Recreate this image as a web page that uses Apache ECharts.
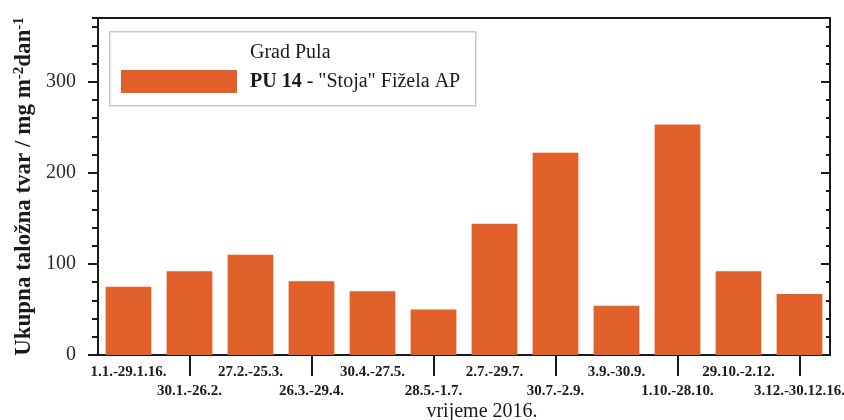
<!DOCTYPE html>
<html>
<head>
<meta charset="utf-8">
<script src="https://cdn.jsdelivr.net/npm/echarts@6/dist/echarts.min.js"></script>
<style>html,body{margin:0;padding:0;background:#fff}#c{width:844px;height:420px}</style>
</head>
<body>
<div id="c"></div>
<script>
const categories = ['1.1.-29.1.16.', '30.1.-26.2.', '27.2.-25.3.', '26.3.-29.4.', '30.4.-27.5.', '28.5.-1.7.', '2.7.-29.7.', '30.7.-2.9.', '3.9.-30.9.', '1.10.-28.10.', '29.10.-2.12.', '3.12.-30.12.16.'];
const values = [75, 92, 110, 81, 70, 50, 144, 222, 54, 253, 92, 67];
const seriesName = 'PU 14 - "Stoja" Fižela AP';
const legendTitle = 'Grad Pula';
const yTicks = [0, 100, 200, 300];
const xTitle = 'vrijeme 2016.';

const FF = '"Liberation Serif", "DejaVu Serif", serif';
const INK = '#1a1a1a';
const chart = echarts.init(document.getElementById('c'));

function yAx(pos, interval, len, inside, withLabel) {
  return {
    type: 'value', position: pos, min: 0, max: 370, interval: interval,
    axisLine: { show: true, lineStyle: { color: INK, width: 2 } },
    axisTick: { show: true, length: len, inside: inside, lineStyle: { color: INK, width: 2 } },
    axisLabel: withLabel ? {
      show: true, showMaxLabel: false, color: '#2a2a2a', fontFamily: FF, fontSize: 20, margin: 22,
      formatter: v => yTicks.indexOf(v) >= 0 ? String(v) : ''
    } : { show: false },
    splitLine: { show: false }
  };
}

const yMain = yAx('left', 100, 10, false, true);
yMain.name = '{t|Ukupna taložna tvar / mg m}{s|-2}{t|dan}{s|-1}';
yMain.nameLocation = 'middle';
yMain.nameRotate = 90;
yMain.nameGap = 58;
yMain.nameTextStyle = {
  rich: {
    t: { fontFamily: FF, fontSize: 23, fontWeight: 'bold', color: INK, verticalAlign: 'bottom' },
    s: { fontFamily: FF, fontSize: 15, fontWeight: 'bold', color: INK, verticalAlign: 'top' }
  }
};

chart.setOption({
  animation: false,
  grid: { left: 98, right: 14, top: 18, bottom: 65, outerBoundsMode: 'none', containLabel: false, show: true, borderColor: INK, borderWidth: 2, backgroundColor: 'transparent' },
  legend: {
    data: [seriesName], left: 121, top: 70, padding: 0, itemWidth: 116, itemHeight: 23, icon: 'rect',
    selectedMode: false,
    formatter: () => '{b|PU 14}{n| - "Stoja" Fižela AP}',
    textStyle: {
      padding: [0, 0, 0, 8],
      rich: {
        b: { fontFamily: FF, fontSize: 20, fontWeight: 'bold', color: INK },
        n: { fontFamily: FF, fontSize: 20, color: INK }
      }
    }
  },
  graphic: [
    { type: 'rect', left: 109, top: 31, shape: { width: 366, height: 74 }, style: { fill: '#fff', stroke: '#c8c8c8', lineWidth: 1.5 }, z: 0 },
    { type: 'text', left: 250, top: 43, style: { text: legendTitle, font: '20px ' + FF, fill: INK }, z: 10 }
  ],
  xAxis: {
    type: 'category', data: categories,
    name: xTitle, nameLocation: 'middle', nameGap: 47, nameMoveOverlap: false,
    nameTextStyle: { fontFamily: FF, fontSize: 20, color: INK, padding: [0, 0, 0, 36] },
    axisLine: { lineStyle: { color: INK, width: 2 } },
    axisTick: { show: true, alignWithLabel: true, length: 21, interval: (i) => i % 2 === 1, lineStyle: { color: INK, width: 2 } },
    axisLabel: {
      interval: 0, margin: 8, fontFamily: FF, fontSize: 15, fontWeight: 'bold', color: INK, lineHeight: 19,
      formatter: (v, i) => (i % 2 === 1 ? '\n' + v : v)
    }
  },
  yAxis: [
    yMain,
    yAx('left', 20, 6, false, false),
    yAx('right', 100, 9, true, false),
    yAx('right', 20, 4, true, false)
  ],
  series: [{
    name: seriesName, type: 'bar', data: values, yAxisIndex: 0,
    barCategoryGap: '25%',
    itemStyle: { color: '#e2612a' }
  }]
});
</script>
</body>
</html>
